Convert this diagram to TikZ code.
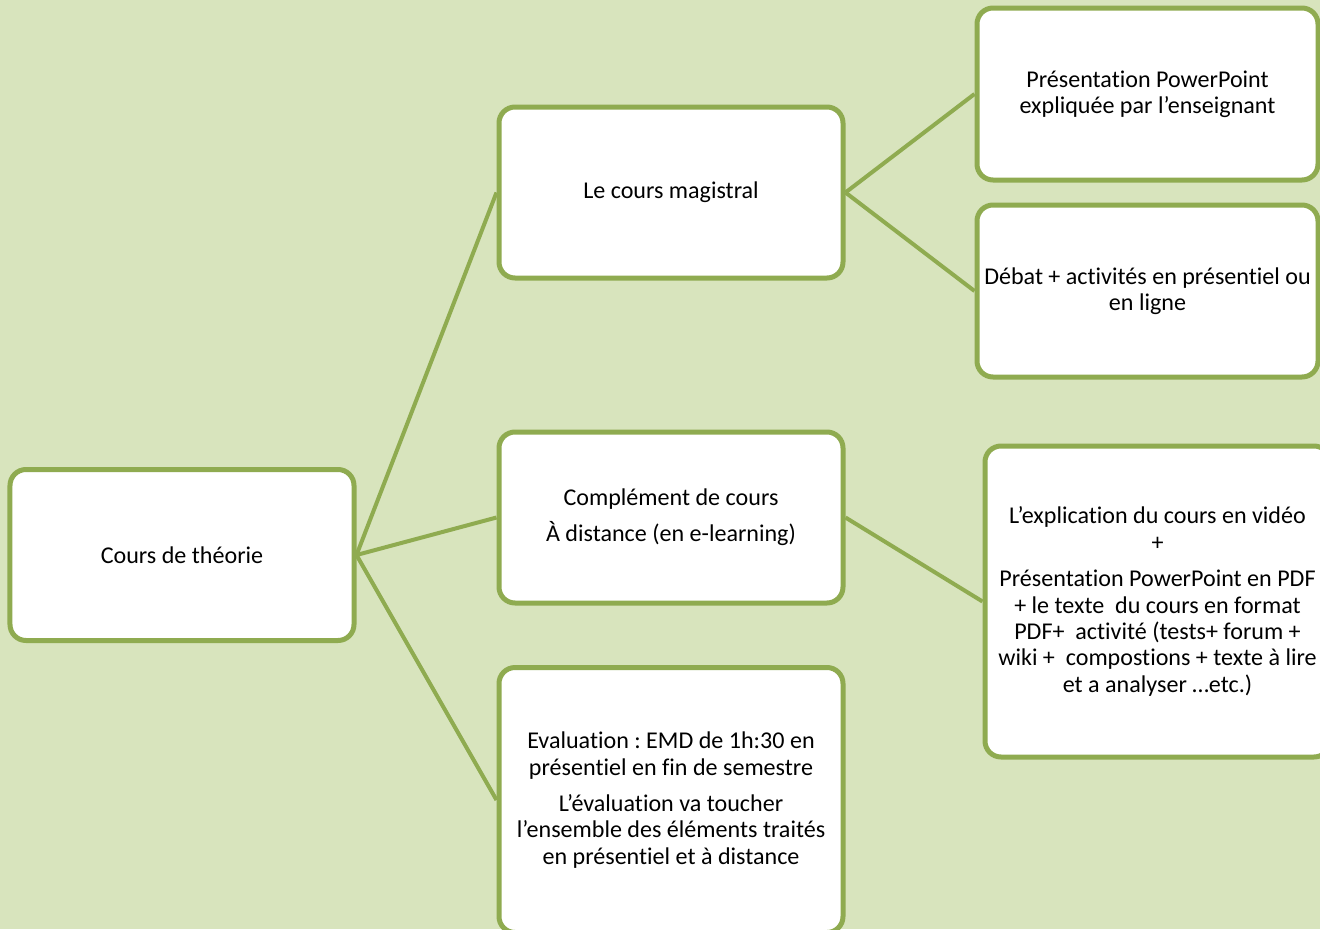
\documentclass[tikz,border=0pt]{standalone}
\usepackage{fontspec}
\setmainfont[Ligatures={NoCommon,NoContextual,NoRequired}]{Carlito}
\usepackage{xcolor}
\usepackage{tikz}
\usetikzlibrary{positioning}
\definecolor{pagegreen}{HTML}{D8E4BD}
\definecolor{olivegreen}{HTML}{8FAB50}
\frenchspacing

\begin{document}
\begin{tikzpicture}[
boxnode/.style={rectangle, rounded corners=0.32cm, draw=olivegreen, fill=white, line width=0.1cm, minimum width=6.88cm, minimum height=3.42cm, align=center, font=\fontsize{13.7pt}{15pt}\selectfont},
branchline/.style={olivegreen, line width=0.08cm},
]
%Background
\fill[pagegreen] (0,0) rectangle (26.4,-18.58);
\useasboundingbox (0,0) rectangle (26.4,-18.58);
\begin{scope}
\clip (0,0) rectangle (26.4,-18.58);

%Nodes
\node[boxnode]		(theorie)		at (3.64,-11.10)						{Cours de théorie};
\node[boxnode]		(magistral)		[right=2.8cm of theorie, yshift=7.25cm]	{Le cours magistral};
\node[boxnode]		(complement)	[right=2.8cm of theorie, yshift=0.75cm]	{Complément de cours\\[0.2cm] À distance (en e-learning)};
\node[boxnode, minimum height=5.3cm]	(evaluation)	[right=2.8cm of theorie, yshift=-4.9cm]	{Evaluation : EMD de 1h:30 en\\ présentiel en fin de semestre\\[0.2cm] L’évaluation va toucher\\ l’ensemble des éléments traités\\ en présentiel et à distance};
\node[boxnode, minimum width=6.82cm, minimum height=3.44cm]	(powerpoint)	[right=2.58cm of magistral, yshift=1.97cm]	{Présentation PowerPoint\\ expliquée par l’enseignant};
\node[boxnode, minimum width=6.82cm, minimum height=3.44cm]	(debat)		[right=2.58cm of magistral, yshift=-1.97cm]	{Débat + activités en présentiel ou\\ en ligne};
\node[boxnode, minimum width=6.9cm, minimum height=6.22cm]	(video)		[right=2.74cm of complement, yshift=-1.68cm]	{L’explication du cours en vidéo\\ +\\[0.2cm] Présentation PowerPoint en PDF\\ + le texte\ \ du cours en format\\ PDF+\ \ activité (tests+ forum +\\ wiki +\ \ compostions + texte à lire\\ et a analyser …etc.)};

%Lines
\draw[branchline] (theorie.east) -- (magistral.west);
\draw[branchline] (theorie.east) -- (complement.west);
\draw[branchline] (theorie.east) -- (evaluation.west);
\draw[branchline] (magistral.east) -- (powerpoint.west);
\draw[branchline] (magistral.east) -- (debat.west);
\draw[branchline] (complement.east) -- (video.west);
\end{scope}
\end{tikzpicture}
\end{document}
